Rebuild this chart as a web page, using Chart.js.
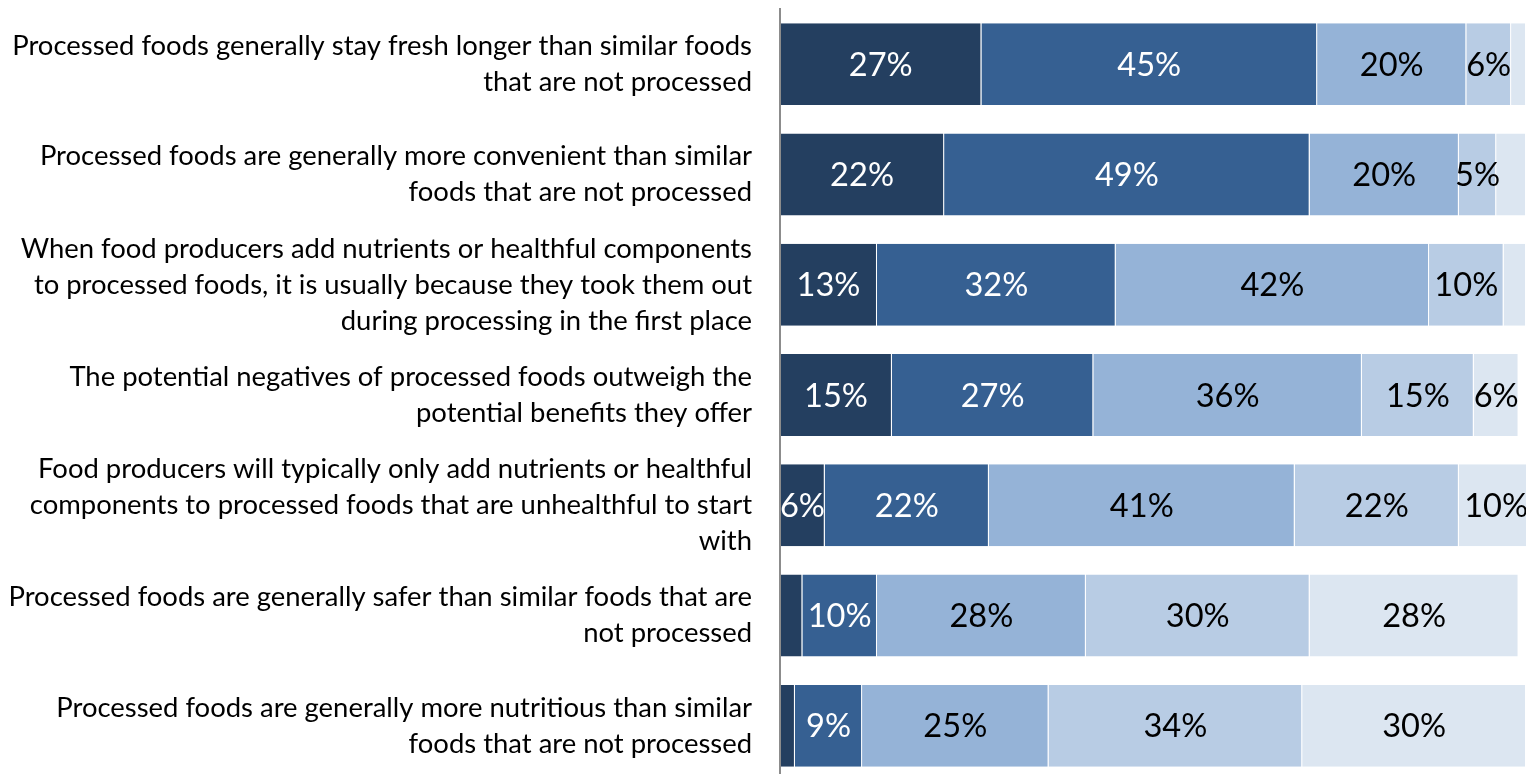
<!DOCTYPE html>
<html>
<head>
<meta charset="utf-8">
<script src="https://cdn.jsdelivr.net/npm/chart.js@4.4.1/dist/chart.umd.min.js"></script>
<style>
  html, body { margin: 0; padding: 0; background: #fff; overflow: hidden; }
  #wrap { position: relative; width: 1526px; height: 790px; }
</style>
</head>
<body>
<div id="wrap"><canvas id="chart"></canvas></div>
<script>
const statements = [
  ["Processed foods generally stay fresh longer than similar foods", "that are not processed"],
  ["Processed foods are generally more convenient than similar", "foods that are not processed"],
  ["When food producers add nutrients or healthful components", "to processed foods, it is usually because they took them out", "during processing in the first place"],
  ["The potential negatives of processed foods outweigh the", "potential benefits they offer"],
  ["Food producers will typically only add nutrients or healthful", "components to processed foods that are unhealthful to start", "with"],
  ["Processed foods are generally safer than similar foods that are", "not processed"],
  ["Processed foods are generally more nutritious than similar", "foods that are not processed"]
];

const strongAgree    = [27, 22, 13, 15,  6,  3,  2];
const somewhatAgree  = [45, 49, 32, 27, 22, 10,  9];
const somewhatDisag  = [20, 20, 42, 36, 41, 28, 25];
const strongDisag    = [ 6,  5, 10, 15, 22, 30, 34];
const notSure        = [ 2,  4,  3,  6, 10, 28, 30];

const seriesNames = ["Strongly agree", "Somewhat agree", "Somewhat disagree", "Strongly disagree", "Not sure"];
const seriesColors = ["#243F60", "#366092", "#95B3D7", "#B8CCE4", "#DCE6F1"];
const labelColors = ["#ffffff", "#ffffff", "#000000", "#000000", "#000000"];

const FONT = "Lato, 'Open Sans', sans-serif";

// pick font sizes so the text widths come out close to the Calibri originals
const measure = document.createElement("canvas").getContext("2d");
function fitSize(text, target) {
  measure.font = "100px " + FONT;
  return 100 * target / measure.measureText(text).width;
}
const catSize = fitSize("Processed foods are generally safer than similar foods that are", 744);
const valSize = fitSize("27%", 64);

const valueLabels = {
  id: "valueLabels",
  afterDatasetsDraw(chart) {
    const ctx = chart.ctx;
    ctx.save();
    ctx.font = valSize.toFixed(1) + "px " + FONT;
    ctx.textAlign = "center";
    ctx.textBaseline = "middle";
    chart.data.datasets.forEach((ds, i) => {
      const meta = chart.getDatasetMeta(i);
      meta.data.forEach((bar, j) => {
        const v = ds.data[j];
        if (v < 5) return;
        ctx.fillStyle = labelColors[i];
        ctx.fillText(v + "%", (bar.x + bar.base) / 2, bar.y + 1);
      });
    });
    ctx.restore();
  }
};

const allSeries = [strongAgree, somewhatAgree, somewhatDisag, strongDisag, notSure];

new Chart(document.getElementById("chart"), {
  type: "bar",
  data: {
    labels: statements,
    datasets: allSeries.map((d, i) => ({
      label: seriesNames[i],
      data: d,
      backgroundColor: seriesColors[i],
      borderColor: "rgba(255,255,255,0.35)",
      borderWidth: { left: 0, right: 1, top: 0, bottom: 0 },
      borderSkipped: false,
      categoryPercentage: 1,
      barPercentage: 0.743
    }))
  },
  options: {
    indexAxis: "y",
    responsive: true,
    maintainAspectRatio: false,
    animation: false,
    layout: { padding: { top: 9, bottom: 9, left: 0, right: 0 } },
    plugins: {
      legend: { display: false },
      tooltip: { enabled: false }
    },
    scales: {
      x: {
        stacked: true,
        min: 0,
        max: 100,
        display: false
      },
      y: {
        stacked: true,
        afterFit(scale) {
          scale.width = 780;
          scale.paddingTop = 0;
          scale.paddingBottom = 0;
        },
        grid: { display: false, drawTicks: false },
        border: { display: true, color: "#8c8c8c", width: 2, z: 1 },
        ticks: {
          autoSkip: false,
          padding: 28,
          color: "#000",
          font: { family: FONT, size: catSize, lineHeight: 36 / catSize }
        }
      }
    }
  },
  plugins: [valueLabels]
});
</script>
</body>
</html>
